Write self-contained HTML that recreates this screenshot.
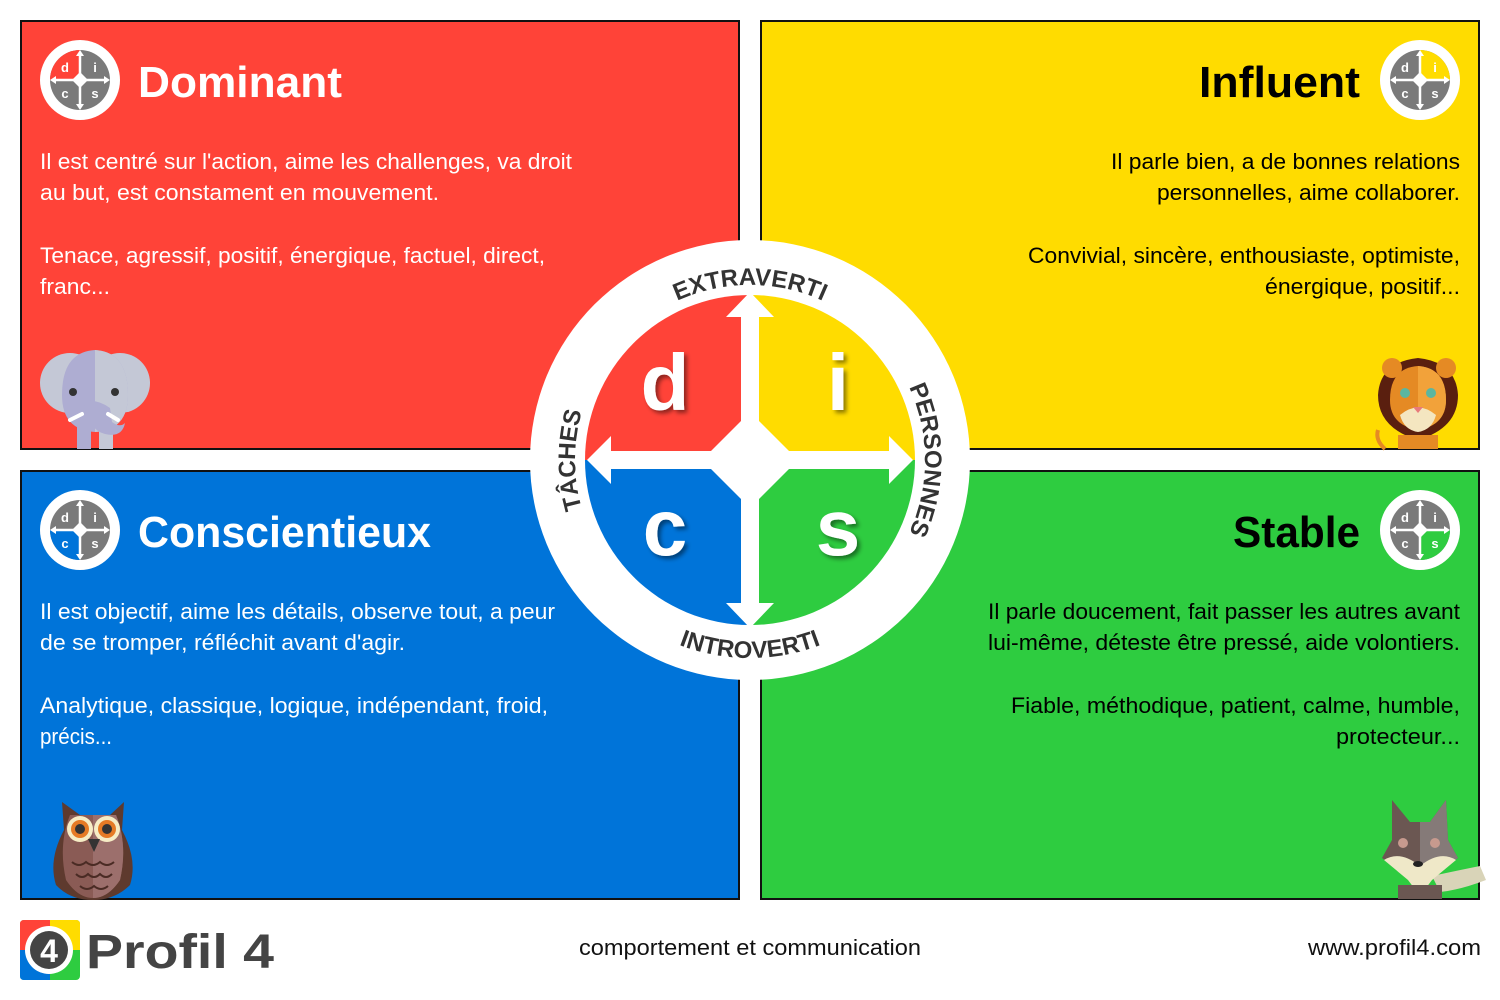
<!DOCTYPE html>
<html><head><meta charset="utf-8"><style>
html,body{margin:0;padding:0;background:#fff;}
svg{display:block;}
text{font-family:"Liberation Sans",sans-serif;}
</style></head><body>
<svg width="1500" height="1000" viewBox="0 0 1500 1000" xmlns="http://www.w3.org/2000/svg">
<defs>
<filter id="sh" x="-20%" y="-20%" width="150%" height="150%"><feDropShadow dx="3" dy="3" stdDeviation="2" flood-color="#000" flood-opacity="0.45"/></filter>
<g id="icobase">
<circle r="40" fill="#fff"/><circle r="30" fill="#7a7a7a"/>
</g>
<g id="icotop">
<g stroke="#fff" stroke-width="2.5"><line x1="0" y1="-27" x2="0" y2="27"/><line x1="-27" y1="0" x2="27" y2="0"/></g>
<polygon points="0,-8 8,0 0,8 -8,0" fill="#fff"/>
<g fill="#fff"><polygon points="0,-30 -4,-24 4,-24"/><polygon points="0,30 -4,24 4,24"/><polygon points="-30,0 -24,-4 -24,4"/><polygon points="30,0 24,-4 24,4"/></g>
<g fill="#fff" font-size="13" text-anchor="middle" font-weight="bold"><text x="-15" y="-8">d</text><text x="15" y="-8">i</text><text x="-15" y="18">c</text><text x="15" y="18">s</text></g>
</g>
<path id="pTop" d="M575,460 A175,175 0 0 1 925,460"/>
<path id="pBot" d="M552,460 A198,198 0 0 0 948,460"/>
<path id="pLeft" d="M750,635 A175,175 0 0 1 750,285"/>
<path id="pRight" d="M750,285 A175,175 0 0 1 750,635"/>
</defs>

<rect x="21" y="21" width="718" height="428" fill="#FF4338" stroke="#111" stroke-width="2"/>
<rect x="761" y="21" width="718" height="428" fill="#FFDC00" stroke="#111" stroke-width="2"/>
<rect x="21" y="471" width="718" height="428" fill="#0074D9" stroke="#111" stroke-width="2"/>
<rect x="761" y="471" width="718" height="428" fill="#2ECC40" stroke="#111" stroke-width="2"/>

<g transform="translate(80,80)"><use href="#icobase"/><path d="M0,0 L0,-30 A30,30 0 0 0 -30,0 Z" fill="#FF4338"/><use href="#icotop"/></g>
<g transform="translate(1420,80)"><use href="#icobase"/><path d="M0,0 L0,-30 A30,30 0 0 1 30,0 Z" fill="#FFDC00"/><use href="#icotop"/></g>
<g transform="translate(80,530)"><use href="#icobase"/><path d="M0,0 L-30,0 A30,30 0 0 0 0,30 Z" fill="#0074D9"/><use href="#icotop"/></g>
<g transform="translate(1420,530)"><use href="#icobase"/><path d="M0,0 L30,0 A30,30 0 0 1 0,30 Z" fill="#2ECC40"/><use href="#icotop"/></g>

<g font-size="44" font-weight="bold">
<text x="138" y="97" fill="#fff" textLength="204" lengthAdjust="spacingAndGlyphs">Dominant</text>
<text x="1360" y="97" fill="#000" text-anchor="end" textLength="161" lengthAdjust="spacingAndGlyphs">Influent</text>
<text x="138" y="547" fill="#fff" textLength="293" lengthAdjust="spacingAndGlyphs">Conscientieux</text>
<text x="1360" y="547" fill="#000" text-anchor="end" textLength="127" lengthAdjust="spacingAndGlyphs">Stable</text>
</g>

<g font-size="22" fill="#fff" lengthAdjust="spacingAndGlyphs">
<text x="40" y="169" textLength="532" lengthAdjust="spacingAndGlyphs">Il est centré sur l'action, aime les challenges, va droit</text>
<text x="40" y="200" textLength="399" lengthAdjust="spacingAndGlyphs">au but, est constament en mouvement.</text>
<text x="40" y="263" textLength="505" lengthAdjust="spacingAndGlyphs">Tenace, agressif, positif, énergique, factuel, direct,</text>
<text x="40" y="294" textLength="70" lengthAdjust="spacingAndGlyphs">franc...</text>
<text x="40" y="619" textLength="515" lengthAdjust="spacingAndGlyphs">Il est objectif, aime les détails, observe tout, a peur</text>
<text x="40" y="650" textLength="365" lengthAdjust="spacingAndGlyphs">de se tromper, réfléchit avant d'agir.</text>
<text x="40" y="713" textLength="508" lengthAdjust="spacingAndGlyphs">Analytique, classique, logique, indépendant, froid,</text>
<text x="40" y="744" textLength="72" lengthAdjust="spacingAndGlyphs">précis...</text>
</g>
<g font-size="22" fill="#000" text-anchor="end">
<text x="1460" y="169" textLength="349" lengthAdjust="spacingAndGlyphs">Il parle bien, a de bonnes relations</text>
<text x="1460" y="200" textLength="303" lengthAdjust="spacingAndGlyphs">personnelles, aime collaborer.</text>
<text x="1460" y="263" textLength="432" lengthAdjust="spacingAndGlyphs">Convivial, sincère, enthousiaste, optimiste,</text>
<text x="1460" y="294" textLength="195" lengthAdjust="spacingAndGlyphs">énergique, positif...</text>
<text x="1460" y="619" textLength="472" lengthAdjust="spacingAndGlyphs">Il parle doucement, fait passer les autres avant</text>
<text x="1460" y="650" textLength="472" lengthAdjust="spacingAndGlyphs">lui-même, déteste être pressé, aide volontiers.</text>
<text x="1460" y="713" textLength="449" lengthAdjust="spacingAndGlyphs">Fiable, méthodique, patient, calme, humble,</text>
<text x="1460" y="744" textLength="124" lengthAdjust="spacingAndGlyphs">protecteur...</text>
</g>

<g>
<circle cx="70" cy="383" r="30" fill="#c4c8d6"/><circle cx="120" cy="383" r="30" fill="#c4c8d6"/>
<path d="M62,395 Q62,352 95,350 Q128,352 128,395 Q128,430 95,432 Q62,430 62,395Z" fill="#aeadd2"/>
<path d="M95,350 Q128,352 128,395 Q128,430 95,432Z" fill="#c4c8d6"/>
<rect x="77" y="425" width="14" height="24" fill="#aeadd2"/><rect x="99" y="425" width="14" height="24" fill="#c4c8d6"/>
<path d="M84,402 Q96,398 110,408 L112,422 Q120,428 125,423 Q122,438 105,434 Q88,430 84,402Z" fill="#aeadd2"/>
<circle cx="73" cy="392" r="4" fill="#333"/><circle cx="115" cy="392" r="4" fill="#333"/>
<path d="M70,420 L82,414" stroke="#fff" stroke-width="4" stroke-linecap="round"/><path d="M108,414 L118,420" stroke="#fff" stroke-width="4" stroke-linecap="round"/>
</g>
<g>
<path d="M1378,395 Q1380,362 1418,358 Q1456,362 1458,395 Q1458,428 1418,440 Q1378,428 1378,395Z" fill="#5a1f0f"/>
<circle cx="1392" cy="368" r="10" fill="#e58a24"/><circle cx="1446" cy="368" r="10" fill="#e58a24"/>
<path d="M1390,400 Q1390,368 1418,366 Q1446,368 1446,400 Q1446,425 1418,430 Q1390,425 1390,400Z" fill="#e58a24"/>
<path d="M1418,366 Q1446,368 1446,400 Q1446,425 1418,430Z" fill="#f2a23a"/>
<path d="M1400,415 Q1418,400 1436,415 Q1432,430 1418,432 Q1404,430 1400,415Z" fill="#f4e6c0"/>
<circle cx="1405" cy="393" r="5" fill="#5bb6a0"/><circle cx="1431" cy="393" r="5" fill="#5bb6a0"/>
<path d="M1413,407 L1423,407 L1418,413Z" fill="#e87a7a"/>
<rect x="1398" y="435" width="40" height="14" fill="#e58a24"/>
<path d="M1385,449 Q1375,440 1378,430" stroke="#e58a24" stroke-width="4" fill="none"/>
</g>
<g>
<path d="M62,802 L80,815 L110,815 L124,802 L122,830 Q138,860 130,885 Q115,900 93,900 Q70,900 56,885 Q48,860 64,830Z" fill="#5e3a2e"/>
<path d="M70,815 L116,815 Q128,845 120,880 Q108,898 93,898 Q78,898 66,880 Q58,845 70,815Z" fill="#8a5b55"/>
<path d="M93,815 L116,815 Q128,845 120,880 Q108,898 93,898Z" fill="#9c6f6c"/>
<circle cx="80" cy="829" r="13" fill="#f6ecc5"/><circle cx="107" cy="829" r="13" fill="#f6ecc5"/>
<circle cx="80" cy="829" r="9" fill="#e57a25"/><circle cx="107" cy="829" r="9" fill="#e57a25"/>
<circle cx="80" cy="829" r="5" fill="#333"/><circle cx="107" cy="829" r="5" fill="#333"/>
<path d="M88,839 L100,839 L94,852Z" fill="#333"/>
<g stroke="#4a2b24" stroke-width="2" fill="none"><path d="M72,862 q7,6 14,0 q7,6 14,0 q7,6 14,0"/><path d="M76,874 q6,6 12,0 q6,6 12,0 q6,6 12,0"/><path d="M80,886 q7,6 14,0 q7,6 14,0"/></g>
</g>
<g>
<path d="M1432,876 Q1460,870 1480,866 L1486,880 Q1460,890 1440,892Z" fill="#d9d4b8"/>
<path d="M1392,800 L1410,822 L1430,822 L1446,800 L1448,840 L1458,858 L1432,876 L1420,896 L1408,876 L1382,858 L1392,840Z" fill="#6b5752"/>
<path d="M1420,822 L1430,822 L1446,800 L1448,840 L1458,858 L1432,876 L1420,896Z" fill="#857a78"/>
<path d="M1384,860 Q1400,850 1420,866 Q1440,850 1456,860 L1432,880 L1420,896 L1408,880Z" fill="#efe8c8"/>
<circle cx="1403" cy="843" r="5" fill="#c79a8e"/><circle cx="1435" cy="843" r="5" fill="#c79a8e"/>
<ellipse cx="1418" cy="864" rx="5" ry="3" fill="#222"/>
<rect x="1398" y="885" width="44" height="14" fill="#6b5752"/>
</g>

<circle cx="750" cy="460" r="220" fill="#fff"/>
<path d="M750,460 L750,295 A165,165 0 0 0 585,460Z" fill="#FF4338"/>
<path d="M750,460 L750,295 A165,165 0 0 1 915,460Z" fill="#FFDC00"/>
<path d="M750,460 L585,460 A165,165 0 0 0 750,625Z" fill="#0074D9"/>
<path d="M750,460 L915,460 A165,165 0 0 1 750,625Z" fill="#2ECC40"/>
<g fill="#fff">
<rect x="741" y="314" width="18" height="292"/>
<rect x="609" y="451" width="282" height="18"/>
<polygon points="750,292 726,317 774,317"/>
<polygon points="750,628 726,603 774,603"/>
<polygon points="587,460 611,436 611,484"/>
<polygon points="913,460 889,436 889,484"/>
<polygon points="750,412 798,460 750,508 702,460"/>
</g>
<g font-size="80" font-weight="bold" fill="#fff" text-anchor="middle" filter="url(#sh)">
<text x="665" y="410">d</text><text x="838" y="410">i</text>
<text x="665" y="555">c</text><text x="838" y="555">s</text>
</g>
<g font-size="24" font-weight="bold" fill="#333">
<text><textPath href="#pTop" startOffset="50%" text-anchor="middle">EXTRAVERTI</textPath></text>
<text><textPath href="#pBot" startOffset="50%" text-anchor="middle">INTROVERTI</textPath></text>
<text><textPath href="#pLeft" startOffset="50%" text-anchor="middle">TÂCHES</textPath></text>
<text><textPath href="#pRight" startOffset="50%" text-anchor="middle">PERSONNES</textPath></text>
</g>

<g>
<rect x="20" y="920" width="60" height="60" rx="4" fill="#2ECC40"/>
<path d="M24,920 H50 V950 H20 V924 Q20,920 24,920Z" fill="#FF4338"/>
<path d="M50,920 H76 Q80,920 80,924 V950 H50Z" fill="#FFDC00"/>
<path d="M20,950 H50 V980 H24 Q20,980 20,976Z" fill="#0074D9"/>
<circle cx="49" cy="950" r="24" fill="#fff"/><circle cx="49" cy="950" r="19" fill="#444"/>
<text x="49" y="962" font-size="32" font-weight="bold" fill="#fff" text-anchor="middle">4</text>
<text x="86" y="968" font-size="48" font-weight="bold" fill="#444" textLength="188" lengthAdjust="spacingAndGlyphs">Profil 4</text>
<text x="750" y="955" font-size="22" fill="#111" text-anchor="middle" textLength="342" lengthAdjust="spacingAndGlyphs">comportement et communication</text>
<text x="1481" y="955" font-size="22" fill="#111" text-anchor="end" textLength="173" lengthAdjust="spacingAndGlyphs">www.profil4.com</text>
</g>
</svg>
</body></html>
